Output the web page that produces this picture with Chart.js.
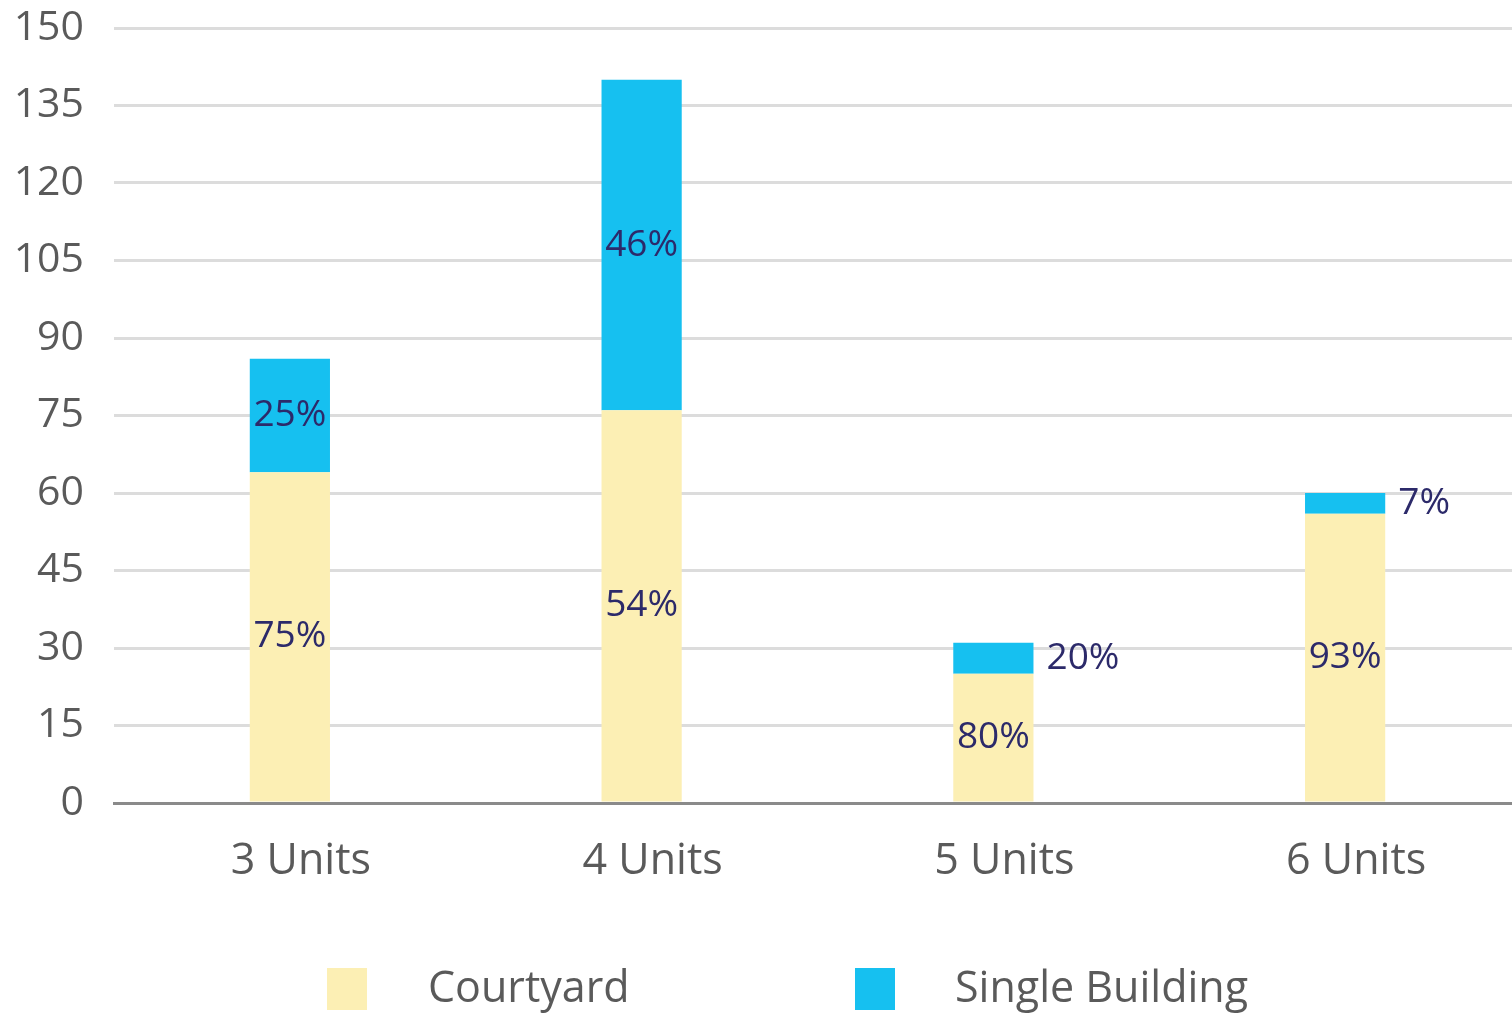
<!DOCTYPE html>
<html>
<head>
<meta charset="utf-8">
<script src="https://cdn.jsdelivr.net/npm/chart.js@4.4.1/dist/chart.umd.min.js"></script>
<style>
  html, body { margin: 0; padding: 0; background: #ffffff; overflow: hidden; width: 1512px; height: 1016px; }
  #wrap { width: 1521px; height: 1016px; position: relative; }
</style>
</head>
<body>
<div id="wrap"><canvas id="c"></canvas></div>
<script>
const categories = ['3 Units', '4 Units', '5 Units', '6 Units'];
const courtyardValues = [64, 76, 25, 56];
const singleBuildingValues = [22, 64, 6, 4];
const courtyardLabels = ['75%', '54%', '80%', '93%'];
const singleBuildingLabels = ['25%', '46%', '20%', '7%'];
const yTicks = [0, 15, 30, 45, 60, 75, 90, 105, 120, 135, 150];
const seriesNames = ['Courtyard', 'Single Building'];
const seriesColors = ['#fcefb4', '#16c0f0'];

const FONT = "'Open Sans', 'Noto Sans', sans-serif";
const LABEL_COLOR = '#2c2a6a';
const TEXT_GRAY = '#5a5a5a';

const valueLabelPlugin = {
  id: 'valueLabels',
  afterDatasetsDraw(chart) {
    const ctx = chart.ctx;
    const labelSets = [courtyardLabels, singleBuildingLabels];
    ctx.save();
    ctx.font = '37px ' + FONT;
    ctx.fillStyle = LABEL_COLOR;
    ctx.textBaseline = 'middle';
    chart.data.datasets.forEach((ds, di) => {
      const meta = chart.getDatasetMeta(di);
      meta.data.forEach((bar, i) => {
        const p = bar.getProps(['x', 'y', 'base', 'width'], true);
        const h = Math.abs(p.base - p.y);
        const cy = (p.y + p.base) / 2;
        const txt = labelSets[di][i];
        if (h < 45) {
          ctx.textAlign = 'left';
          ctx.fillText(txt, p.x + p.width / 2 + 13, cy);
        } else {
          ctx.textAlign = 'center';
          ctx.fillText(txt, p.x, cy);
        }
      });
    });
    ctx.restore();
  }
};

const customLegendPlugin = {
  id: 'customLegend',
  afterDraw(chart) {
    const ctx = chart.ctx;
    const boxX = [327, 855];
    const textX = [428, 955];
    ctx.save();
    ctx.font = '43px ' + FONT;
    ctx.textBaseline = 'middle';
    ctx.textAlign = 'left';
    chart.data.datasets.forEach((ds, i) => {
      ctx.fillStyle = ds.backgroundColor;
      ctx.fillRect(boxX[i], 968, 40, 42);
      ctx.fillStyle = TEXT_GRAY;
      ctx.fillText(ds.label, textX[i], 990);
    });
    ctx.restore();
  }
};

new Chart(document.getElementById('c'), {
  type: 'bar',
  data: {
    labels: categories,
    datasets: [
      { label: seriesNames[0], data: courtyardValues, backgroundColor: seriesColors[0] },
      { label: seriesNames[1], data: singleBuildingValues, backgroundColor: seriesColors[1] }
    ]
  },
  options: {
    responsive: true,
    maintainAspectRatio: false,
    animation: false,
    layout: { padding: { top: 0, right: 0, left: 0, bottom: 0 } },
    datasets: { bar: { categoryPercentage: 1, barPercentage: 0.228 } },
    plugins: {
      legend: { display: false },
      tooltip: { enabled: false }
    },
    scales: {
      x: {
        stacked: true,
        grid: { display: false, drawTicks: false },
        border: { display: true, color: '#8a8a8a', width: 3 },
        ticks: { font: { family: FONT, size: 43 }, color: TEXT_GRAY, padding: 33, labelOffset: 11 },
        afterFit(scale) { scale.height = 213; scale.paddingLeft = 0; scale.paddingRight = 0; }
      },
      y: {
        stacked: true,
        min: 0,
        max: 150,
        afterBuildTicks(scale) { scale.ticks = yTicks.map(v => ({ value: v })); },
        grid: { color: '#dcdcdc', lineWidth: 3, drawTicks: false },
        border: { display: false },
        ticks: { font: { family: FONT, size: 41 }, color: TEXT_GRAY, padding: 30 },
        afterFit(scale) { scale.width = 114; scale.paddingTop = 28; scale.paddingBottom = 0; }
      }
    }
  },
  plugins: [valueLabelPlugin, customLegendPlugin]
});
</script>
</body>
</html>
